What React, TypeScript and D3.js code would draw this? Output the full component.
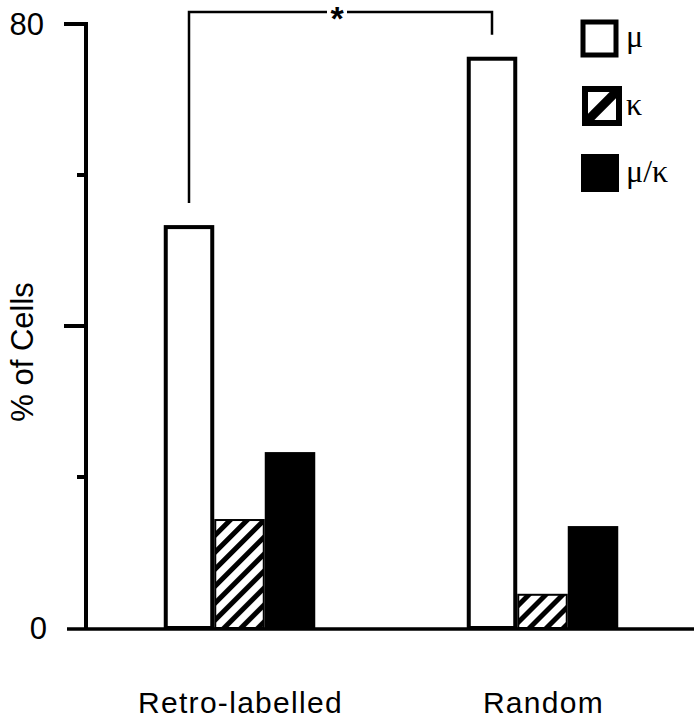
import React from "react";
import * as d3 from "d3";

const categories = ["Retro-labelled", "Random"];
const seriesNames = ["μ", "κ", "μ/κ"];
const muValues = [53.1, 75.4];
const kappaValues = [14.3, 4.4];
const muKappaValues = [23.3, 13.5];
const yTickMajor = [0, 40, 80];
const yTickMinor = [20, 60];
const yTickLabels = [0, 80];

const W = 694;
const H = 720;
const X0 = 88;
const YTOP = 24;
const YBOT = 628;

export default function App() {
  const y = d3.scaleLinear().domain([0, 80]).range([YBOT, YTOP]);
  const x = d3
    .scaleBand<string>()
    .domain(categories)
    .range([X0, W])
    .paddingInner(0.5)
    .paddingOuter(0.25);
  const xs = d3
    .scaleBand<string>()
    .domain(seriesNames)
    .range([0, x.bandwidth()])
    .padding(0);

  const seriesValues = [muValues, kappaValues, muKappaValues];
  const font = "'Liberation Sans', Arial, Helvetica, sans-serif";
  const serif = "'Liberation Serif', 'Times New Roman', serif";

  const bars: React.ReactNode[] = [];
  categories.forEach((c, ci) => {
    seriesNames.forEach((s, si) => {
      const v = seriesValues[si][ci];
      const bx = (x(c) as number) + (xs(s) as number);
      const bw = xs.bandwidth();
      const top = y(v);
      if (si === 0) {
        bars.push(
          <rect key={c + s} x={bx + 2} y={top} width={bw - 4} height={YBOT - top}
            fill="white" stroke="black" strokeWidth={4} />
        );
      } else if (si === 1) {
        bars.push(
          <rect key={c + s} x={bx + 1} y={top} width={bw - 2} height={YBOT - top}
            fill="url(#hatch)" stroke="black" strokeWidth={2} />
        );
      } else {
        bars.push(
          <rect key={c + s} x={bx} y={top} width={bw} height={YBOT - top} fill="black" />
        );
      }
    });
  });

  const muCenter = (c: string) => (x(c) as number) + (xs("μ") as number) + xs.bandwidth() / 2;
  const bx1 = muCenter(categories[0]);
  const bx2 = muCenter(categories[1]);
  const bTop = 12;
  const starX = 337;

  const legendY = [38, 106, 173];

  return (
    <svg width={W} height={H} style={{ position: "absolute", left: 0, top: 0, background: "white" }}>
      <defs>
        <pattern id="hatch" patternUnits="userSpaceOnUse" width={12} height={12}
          patternTransform="rotate(45)">
          <rect x={0} y={0} width={12} height={12} fill="white" />
          <rect x={0} y={0} width={5} height={12} fill="black" />
        </pattern>
        <clipPath id="legClip">
          <rect x={585} y={89} width={34} height={34} />
        </clipPath>
      </defs>
      <rect width={W} height={H} fill="white" />

      {bars}

      {/* y axis */}
      <line x1={X0 - 2} x2={X0 - 2} y1={y(80)} y2={YBOT} stroke="black" strokeWidth={4} />
      {yTickMajor.filter((t) => t !== 0).map((t) => (
        <line key={"M" + t} x1={64} x2={X0} y1={y(t)} y2={y(t)} stroke="black" strokeWidth={4} />
      ))}
      {yTickMinor.map((t) => (
        <line key={"m" + t} x1={77} x2={X0} y1={y(t)} y2={y(t)} stroke="black" strokeWidth={4} />
      ))}
      {/* baseline */}
      <line x1={67} x2={W} y1={y(0) + 1} y2={y(0) + 1} stroke="black" strokeWidth={3.5} />

      {yTickLabels.map((t) => (
        <text key={"l" + t} x={t === 0 ? 47 : 44} y={y(t)} dy="0.36em" textAnchor="end"
          fontFamily={font} fontSize={31}>{t}</text>
      ))}

      <text transform={`translate(33,${352}) rotate(-90)`} textAnchor="middle"
        fontFamily={font} fontSize={31}>% of Cells</text>

      {categories.map((c) => (
        <text key={c} x={(x(c) as number) + x.bandwidth() / 2 + 1} y={713} textAnchor="middle"
          fontFamily={font} fontSize={30} letterSpacing={1.3}>{c}</text>
      ))}

      {/* significance bracket */}
      <path d={`M${bx1},${y(muValues[0]) - 24}V${bTop}H${starX - 10}`} fill="none" stroke="black" strokeWidth={2.5} />
      <path d={`M${starX + 10},${bTop}H${bx2}V${y(muValues[1]) - 24}`} fill="none" stroke="black" strokeWidth={2.5} />
      <text x={starX} y={30} textAnchor="middle" fontFamily={font} fontWeight="bold" fontSize={34}>*</text>

      {/* legend */}
      <rect x={583} y={22} width={33} height={33} fill="white" stroke="black" strokeWidth={5} />
      <rect x={585} y={89} width={34} height={34} fill="white" />
      <g clipPath="url(#legClip)">
        <line x1={585} y1={123} x2={619} y2={89} stroke="black" strokeWidth={9} />
      </g>
      <rect x={585} y={89} width={34} height={34} fill="none" stroke="black" strokeWidth={6} />
      <rect x={581} y={154} width={38} height={38} fill="black" />
      {seriesNames.map((s, i) => (
        <text key={s} x={626} y={legendY[i] + 9} fontFamily={serif} fontSize={32}>{s}</text>
      ))}
    </svg>
  );
}
